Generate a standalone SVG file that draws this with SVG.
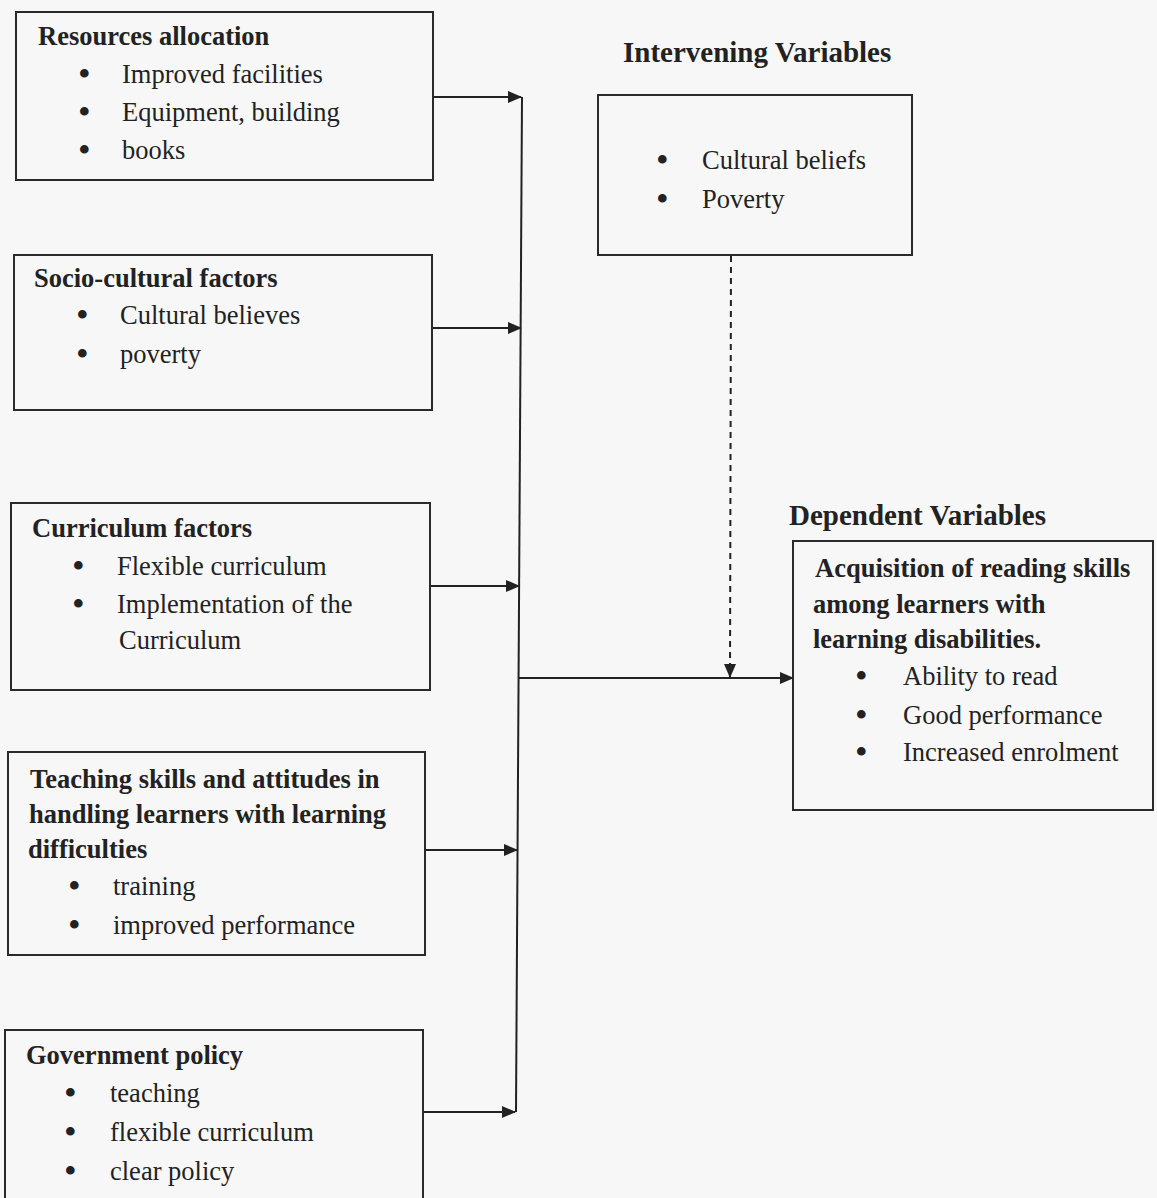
<svg xmlns="http://www.w3.org/2000/svg" width="1157" height="1198" viewBox="0 0 1157 1198">
<defs>
<marker id="ah" markerWidth="14" markerHeight="12" refX="13" refY="6" orient="auto" markerUnits="userSpaceOnUse">
<path d="M0,0 L14,6 L0,12 Z" fill="#222"/>
</marker>
<style>
.box{fill:none;stroke:#2a2a2a;stroke-width:2}
.t{font-family:"Liberation Serif","Times New Roman",serif;font-size:26.5px;fill:#222}
.b{font-weight:bold}
.h{font-size:29px}
.u{font-size:36px}
.ln{stroke:#222;stroke-width:2;fill:none}
.dash{stroke:#222;stroke-width:2;fill:none;stroke-dasharray:6,5}
</style>
</defs>
<rect width="1157" height="1198" fill="#f7f7f7"/>

<g id="connectors">
<line class="ln" x1="433" y1="97" x2="521" y2="97" marker-end="url(#ah)"/>
<line class="ln" x1="432" y1="328" x2="521" y2="328" marker-end="url(#ah)"/>
<line class="ln" x1="430" y1="586" x2="519" y2="586" marker-end="url(#ah)"/>
<line class="ln" x1="425" y1="850" x2="517" y2="850" marker-end="url(#ah)"/>
<line class="ln" x1="423" y1="1112" x2="515" y2="1112" marker-end="url(#ah)"/>
<line class="ln" x1="522" y1="97" x2="516" y2="1112"/>
<line class="ln" x1="519" y1="678" x2="793" y2="678" marker-end="url(#ah)"/>
<line class="dash" x1="731" y1="256" x2="730" y2="677" marker-end="url(#ah)"/>
</g>

<g id="resources">
<rect class="box" x="16" y="12" width="417" height="168"/>
<text class="t b" x="38" y="45">Resources allocation</text>
<text class="t u" x="78" y="86">•</text><text class="t" x="122" y="83">Improved facilities</text>
<text class="t u" x="78" y="124">•</text><text class="t" x="122" y="121">Equipment, building</text>
<text class="t u" x="78" y="162">•</text><text class="t" x="122" y="159">books</text>
</g>

<g id="socio">
<rect class="box" x="14" y="255" width="418" height="155"/>
<text class="t b" x="34" y="287">Socio-cultural factors</text>
<text class="t u" x="76" y="327">•</text><text class="t" x="120" y="324">Cultural believes</text>
<text class="t u" x="76" y="366">•</text><text class="t" x="120" y="363">poverty</text>
</g>

<g id="curriculum">
<rect class="box" x="11" y="503" width="419" height="187"/>
<text class="t b" x="32" y="537">Curriculum factors</text>
<text class="t u" x="72" y="578">•</text><text class="t" x="117" y="575">Flexible curriculum</text>
<text class="t u" x="72" y="616">•</text><text class="t" x="117" y="613">Implementation of the</text>
<text class="t" x="119" y="649">Curriculum</text>
</g>

<g id="teaching">
<rect class="box" x="8" y="752" width="417" height="203"/>
<text class="t b" x="30" y="788">Teaching skills and attitudes in</text>
<text class="t b" x="29" y="823">handling learners with learning</text>
<text class="t b" x="28" y="858">difficulties</text>
<text class="t u" x="68" y="898">•</text><text class="t" x="113" y="895">training</text>
<text class="t u" x="68" y="937">•</text><text class="t" x="113" y="934">improved performance</text>
</g>

<g id="government">
<rect class="box" x="5" y="1030" width="418" height="180"/>
<text class="t b" x="26" y="1064">Government policy</text>
<text class="t u" x="64" y="1105">•</text><text class="t" x="110" y="1102">teaching</text>
<text class="t u" x="64" y="1144">•</text><text class="t" x="110" y="1141">flexible curriculum</text>
<text class="t u" x="64" y="1183">•</text><text class="t" x="110" y="1180">clear policy</text>
</g>

<g id="intervening">
<text class="t b h" x="623" y="62">Intervening Variables</text>
<rect class="box" x="598" y="95" width="314" height="160"/>
<text class="t u" x="656" y="172">•</text><text class="t" x="702" y="169">Cultural beliefs</text>
<text class="t u" x="656" y="211">•</text><text class="t" x="702" y="208">Poverty</text>
</g>

<g id="dependent">
<text class="t b h" x="789" y="525">Dependent Variables</text>
<rect class="box" x="793" y="541" width="360" height="269"/>
<text class="t b" x="815" y="577">Acquisition of reading skills</text>
<text class="t b" x="813" y="613">among learners with</text>
<text class="t b" x="813" y="648">learning disabilities.</text>
<text class="t u" x="855" y="688">•</text><text class="t" x="903" y="685">Ability to read</text>
<text class="t u" x="855" y="727">•</text><text class="t" x="903" y="724">Good performance</text>
<text class="t u" x="855" y="764">•</text><text class="t" x="903" y="761">Increased enrolment</text>
</g>
</svg>
